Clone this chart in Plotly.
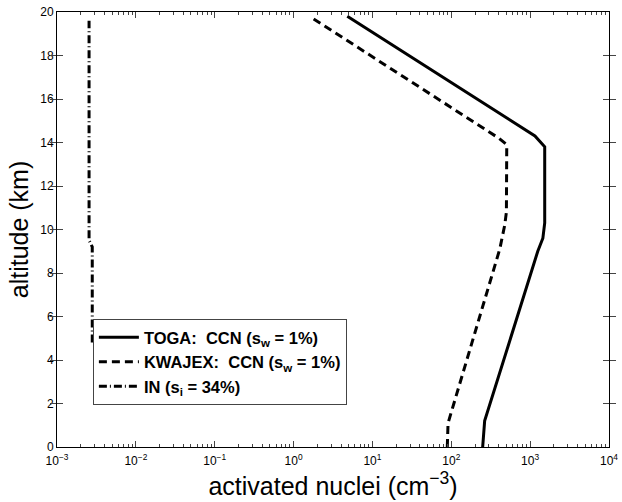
import plotly.graph_objects as go

# TOGA CCN (s_w = 1%)
toga_alt = [0.0, 1.2, 9.0, 9.6, 10.3, 13.8, 14.3, 19.8]
toga_n = [250, 265, 1250, 1450, 1530, 1530, 1150, 4.8]

# KWAJEX CCN (s_w = 1%)
kwajex_alt = [0.0, 1.1, 9.1, 10.2, 10.8, 13.9, 14.2, 19.8]
kwajex_n = [89, 91, 412, 476, 500, 505, 400, 1.6]

# IN (s_i = 34%)
in_alt = [4.8, 9.2, 9.5, 19.6]
in_n = [0.0028, 0.0028, 0.00255, 0.00255]

# axis ticks
x_exponents = [-3, -2, -1, 0, 1, 2, 3, 4]
x_tickvals = [10.0 ** e for e in x_exponents]
x_ticktext = ["10<sup>%s</sup>" % (str(e).replace("-", "\u2212")) for e in x_exponents]
x_minor = [k * 10.0 ** e for e in x_exponents[:-1] for k in range(2, 10)]
y_tickvals = [0, 2, 4, 6, 8, 10, 12, 14, 16, 18, 20]

font = "Liberation Sans, Arial, Helvetica, sans-serif"

fig = go.Figure()
fig.add_trace(go.Scatter(x=toga_n, y=toga_alt, mode="lines",
                         line=dict(color="black", width=3),
                         name="<b>TOGA:  CCN (s<sub>w</sub> = 1%)</b>"))
fig.add_trace(go.Scatter(x=kwajex_n, y=kwajex_alt, mode="lines",
                         line=dict(color="black", width=3, dash="8px,5px"),
                         name="<b>KWAJEX:  CCN (s<sub>w</sub> = 1%)</b>"))
fig.add_trace(go.Scatter(x=in_n, y=in_alt, mode="lines",
                         line=dict(color="black", width=3, dash="8px,3px,1px,3px"),
                         name="<b>IN (s<sub>i</sub> = 34%)</b>"))
# invisible carrier trace so the minor-tick axis is drawn
fig.add_trace(go.Scatter(x=toga_n, y=toga_alt, xaxis="x2", mode="lines",
                         line=dict(color="rgba(0,0,0,0)", width=0),
                         showlegend=False, hoverinfo="skip"))

fig.update_layout(
    width=622, height=502,
    margin=dict(l=57, r=13, t=12, b=55, autoexpand=False),
    paper_bgcolor="white", plot_bgcolor="white",
    font=dict(family=font, color="black", size=12),
    showlegend=True,
    legend=dict(x=0.065, y=0.294, xanchor="left", yanchor="top",
                bordercolor="#444", borderwidth=1, bgcolor="white",
                font=dict(size=16.5, family=font), tracegroupgap=0,
                itemwidth=40),
    xaxis=dict(type="log", range=[-3, 4], tickvals=x_tickvals, ticktext=x_ticktext,
               ticks="inside", ticklen=6, tickwidth=1, ticklabelstandoff=3,
               showline=True, linecolor="black", linewidth=1, mirror="allticks",
               showgrid=False, zeroline=False, tickfont=dict(size=12), automargin=False,
               title=dict(text="activated nuclei (cm<sup>\u22123</sup>)",
                          font=dict(size=25), standoff=6)),
    xaxis2=dict(type="log", range=[-3, 4], overlaying="x", anchor="y", side="bottom",
                tickvals=x_minor, showticklabels=False, automargin=False,
                ticks="inside", ticklen=3, tickwidth=1,
                showline=True, linecolor="black", linewidth=1, mirror="allticks",
                showgrid=False, zeroline=False),
    yaxis=dict(range=[0, 20], tickvals=y_tickvals, ticks="inside", ticklen=6,
               showline=True, linecolor="black", linewidth=1, mirror="allticks",
               showgrid=False, zeroline=False, tickfont=dict(size=12), automargin=False,
               title=dict(text="altitude (km)", font=dict(size=25), standoff=4)),
)

fig.write_html("out.html")
